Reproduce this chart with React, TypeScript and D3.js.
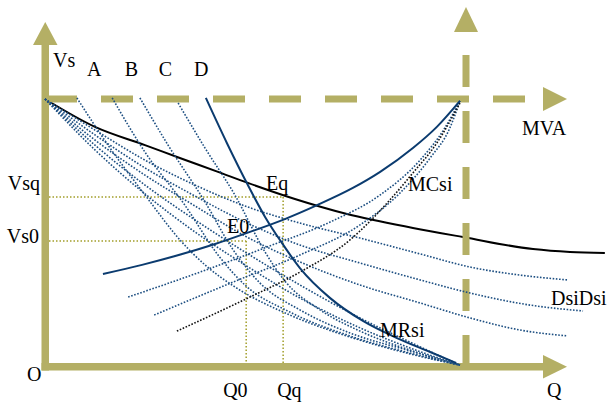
import React from "react";
import * as d3 from "d3";

type P = [number, number];

// Conceptual diagram data: Q on 0..100 (to the MVA limit), Vs on 0..100 (to the MVA limit)
const mvaDemand: P[] = [[0,100],[11.9,89.6],[23.8,82.8],[32.1,78.0],[41.2,72.8],[48.3,68.7],[59.5,62.7],[71.9,57.1],[87.6,51.9],[99.5,48.5],[116.2,44.0],[125.0,42.9],[133.3,42.5]];
const mcSolid: P[] = [[13.8,34.7],[23.1,38.1],[31.0,41.4],[40.5,45.9],[48.8,50.4],[57.1,55.2],[64.8,60.4],[73.3,66.8],[79.8,72.8],[87.6,81.7],[93.3,89.6],[98.8,99.3]];
const mcDotted1: P[] = [[19.8,26.1],[36.9,35.4],[52.9,44.8],[67.9,54.1],[79.8,64.2],[89.3,77.2],[95.2,89.2],[98.8,99.3]];
const mcDotted2: P[] = [[26.0,19.4],[44.8,31.7],[60.7,41.8],[75.0,53.0],[84.5,64.9],[91.7,78.0],[96.4,89.2],[98.8,99.3]];
const mcDottedBlack: P[] = [[31.4,13.4],[48.8,26.1],[60.7,35.4],[72.6,47.4],[82.1,62.3],[87.6,72.4],[93.3,83.6],[98.8,98.5]];
const mrSolid: P[] = [[38.3,100.4],[43.3,83.6],[48.3,67.9],[52.4,56.0],[56.4,46.3],[60.7,36.9],[67.9,25.7],[75.7,17.2],[83.8,10.8],[91.7,5.6],[97.9,1.5]];
const dsi1: P[] = [[0,100],[11.9,88.4],[23.8,77.2],[35.7,67.9],[47.6,60.1],[60.7,53.7],[75.0,48.1],[89.3,42.2],[101.2,37.3],[113.1,34.3],[124.3,32.5]];
const dsi2: P[] = [[0,100],[11.9,86.6],[23.8,74.3],[35.7,63.8],[47.6,54.1],[60.7,45.5],[75.0,38.8],[89.3,32.5],[101.2,27.6],[115.5,23.1],[128.1,20.9]];
const dsi3: P[] = [[0,100],[11.9,84.7],[23.8,71.6],[35.7,60.1],[47.6,48.9],[60.7,39.2],[75.0,30.6],[89.3,23.9],[101.2,18.3],[113.1,13.8],[124.3,11.6]];
const dsi4: P[] = [[0,100],[11.9,82.8],[23.8,67.9],[35.7,54.9],[47.6,42.9],[60.7,30.6],[75.0,18.3],[86.9,9.3],[98.8,0.7]];
const dsi5: P[] = [[0,100],[11.9,81.0],[23.8,64.6],[35.7,50.4],[47.6,38.1],[60.7,25.7],[75.0,14.6],[86.9,7.1],[98.8,0.7]];
const curveA: P[] = [[7.6,100.4],[15.0,82.8],[23.8,64.2],[32.6,46.6],[38.1,38.1],[45.2,29.9],[58.3,19.4],[72.6,11.2],[86.9,4.9],[98.8,0.7]];
const curveB: P[] = [[16.0,100.4],[23.8,80.2],[33.3,60.4],[41.2,41.8],[47.6,30.6],[58.3,20.5],[72.6,11.6],[86.9,5.2],[98.8,0.7]];
const curveC: P[] = [[22.6,100.4],[29.3,82.8],[38.1,61.6],[44.5,44.4],[51.2,31.3],[60.7,21.3],[72.6,12.7],[86.9,6.0],[98.8,0.7]];
const curveD: P[] = [[31.7,98.5],[38.1,81.7],[45.2,64.2],[52.4,42.9],[57.1,32.1],[65.5,21.3],[75.0,13.4],[86.9,6.3],[98.8,0.7]];

const q0 = 47.9, qq = 56.7, vs0 = 47.0, vsq = 63.4;

const topLabels = ["A", "B", "C", "D"];
const topLabelQ = [10.0, 19.0, 27.1, 35.5];

const OLIVE = "#b4af65";
const GUIDE = "#a29e2a";
const NAVY = "#0b3b6f";
const DOTBLUE = "#1d4f82";

export default function App() {
  const x = d3.scaleLinear().domain([0, 100]).range([45, 465]);
  const y = d3.scaleLinear().domain([0, 100]).range([367, 99]);
  const line = d3.line<P>().x(d => x(d[0])).y(d => y(d[1])).curve(d3.curveMonotoneX);

  const x0 = x(0), y0 = y(0), xTop = x(100), yTop = y(100);
  const font: React.CSSProperties = { fontFamily: "'Liberation Serif', 'Times New Roman', 'DejaVu Serif', serif", fontSize: "20px", fill: "#000" };

  const dotted = (pts: P[], color: string, key: string) => (
    <path key={key} d={line(pts) || ""} fill="none" stroke={color} strokeWidth={1.6} strokeDasharray="1.6 1.6" />
  );

  return (
    <svg width={608} height={402} style={{ position: "absolute", left: 0, top: 0, background: "#fff" }}>
      {/* black demand curve */}
      <path d={line(mvaDemand) || ""} fill="none" stroke="#000" strokeWidth={2} />

      {/* MVA dashed limits */}
      <line x1={x0} y1={yTop} x2={543} y2={yTop} stroke={OLIVE} strokeWidth={7} strokeDasharray="32 24" />
      <polygon points={`543,${yTop - 12} 543,${yTop + 12} 567,${yTop}`} fill={OLIVE} />
      <line x1={xTop + 1} y1={y0} x2={xTop + 1} y2={32} stroke={OLIVE} strokeWidth={7} strokeDasharray="32 24" />
      <polygon points={`${xTop - 11},32 ${xTop + 13},32 ${xTop + 1},7`} fill={OLIVE} />

      {/* axes */}
      <rect x={x0 - 3.5} y={45} width={7.5} height={y0 - 45 + 3.5} fill={OLIVE} />
      <polygon points={`${x0 - 12},45 ${x0 + 12.5},45 ${x0 + 0.25},22`} fill={OLIVE} />
      <rect x={x0 - 3.5} y={y0 - 4} width={543 - x0 + 3.5} height={7.5} fill={OLIVE} />
      <polygon points={`543,${y0 - 12} 543,${y0 + 11.5} 567,${y0 - 0.25}`} fill={OLIVE} />

      {/* equilibrium guides */}
      <g stroke={GUIDE} strokeWidth={1.5} strokeDasharray="1.5 2" fill="none">
        <line x1={x0 + 4} y1={y(vsq)} x2={x(qq)} y2={y(vsq)} />
        <line x1={x(qq)} y1={y(vsq)} x2={x(qq)} y2={y0 - 4} />
        <line x1={x0 + 4} y1={y(vs0)} x2={x(q0)} y2={y(vs0)} />
        <line x1={x(q0)} y1={y(vs0)} x2={x(q0)} y2={y0 - 4} />
      </g>

      {/* demand fan and MR curves */}
      {[dsi1, dsi2, dsi3, dsi4, dsi5].map((c, i) => dotted(c, DOTBLUE, "dsi" + i))}
      {[curveA, curveB, curveC, curveD].map((c, i) => dotted(c, DOTBLUE, "abcd" + i))}

      {/* MC curves */}
      {dotted(mcDotted1, DOTBLUE, "mc1")}
      {dotted(mcDotted2, DOTBLUE, "mc2")}
      {dotted(mcDottedBlack, "#111", "mc3")}
      <path d={line(mcSolid) || ""} fill="none" stroke={NAVY} strokeWidth={2} />
      <path d={line(mrSolid) || ""} fill="none" stroke={NAVY} strokeWidth={2} />

      {/* labels */}
      <g style={font}>
        <text x={53} y={67}>Vs</text>
        {topLabels.map((t, i) => (
          <text key={t} x={x(topLabelQ[i])} y={76}>{t}</text>
        ))}
        <text x={522} y={135}>MVA</text>
        <text x={40} y={190} textAnchor="end">Vsq</text>
        <text x={39} y={243} textAnchor="end">Vs0</text>
        <text x={27} y={381}>O</text>
        <text x={x(q0) - 23} y={397}>Q0</text>
        <text x={x(qq) - 6} y={397}>Qq</text>
        <text x={547} y={397}>Q</text>
        <text x={266} y={190}>Eq</text>
        <text x={227} y={233}>E0</text>
        <text x={408} y={191}>MCsi</text>
        <text x={551} y={305}>DsiDsi</text>
        <text x={380} y={337}>MRsi</text>
      </g>
    </svg>
  );
}
